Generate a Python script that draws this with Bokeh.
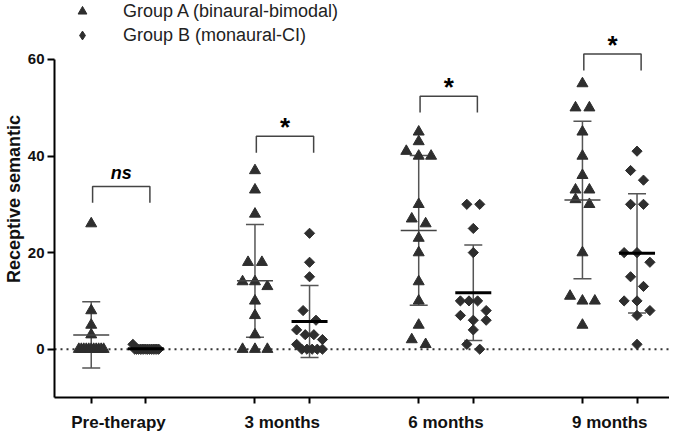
import numpy as np
from bokeh.plotting import figure
from bokeh.models import (FixedTicker, Whisker, TeeHead, Span, Legend, LegendItem,
                          ColumnDataSource, Range1d)
from bokeh.embed import file_html
from bokeh.resources import INLINE
from bokeh.core.properties import value

# ---------------- data ----------------
categories = ["Pre-therapy", "3 months", "6 months", "9 months"]
group_labels = ["Group A (binaural-bimodal)", "Group B (monaural-CI)"]

pre_a = [26, 8, 5, 3, 0, 0, 0, 0, 0, 0, 0, 0, 0, 0, 0]
pre_b = [1, 0, 0, 0, 0, 0, 0, 0, 0, 0, 0, 0, 0, 0, 0]
m3_a = [37, 33, 28, 18, 18, 14, 14, 13, 10, 7, 3, 0, 0, 0]
m3_b = [24, 18, 15, 8, 6, 4, 3, 3, 2, 1, 0, 0, 0, 0, 0]
m6_a = [45, 43, 41, 40, 40, 30, 27, 26, 23, 20, 14, 10, 5, 2, 1]
m6_b = [30, 30, 25, 20, 10, 10, 10, 8, 7, 6, 6, 4, 1, 0]
m9_a = [55, 50, 50, 45, 40, 36, 33, 33, 31, 30, 20, 11, 10, 10, 5]
m9_b = [41, 37, 35, 30, 30, 20, 20, 18, 15, 13, 10, 10, 8, 7, 1]

group_a = [pre_a, m3_a, m6_a, m9_a]
group_b = [pre_b, m3_b, m6_b, m9_b]

mean_a = [2.95, 14.15, 24.6, 30.9]
sd_a = [6.85, 11.65, 15.5, 16.3]
mean_b = [0.1, 5.75, 11.7, 19.85]
sd_b = [0.25, 7.45, 9.9, 12.35]

sig_labels = ["ns", "*", "*", "*"]
bracket_top = [33.7, 44.1, 52.4, 61.1]
bracket_leg = 3.4

y_ticks = [0, 20, 40, 60]

# ---------------- layout ----------------
W, H = 669, 434
BL, BB = 49, 34
X0, X1 = -1.346, 21.19
Y0, Y1 = -10, 72.2
PX_X = (W - BL) / (X1 - X0)
PX_Y = (H - BB) / (Y1 - Y0)

pos_a = [6 * i for i in range(len(categories))]
pos_b = [6 * i + 2 for i in range(len(categories))]
pos_lab = [6 * i + 1 for i in range(len(categories))]


def swarm(vals, w, h, maxw=36.0):
    """Prism-like scatter layout: bin by height, spread each bin symmetrically."""
    order = sorted(range(len(vals)), key=lambda i: -vals[i])
    thr = h / PX_Y
    bins = []
    for i in order:
        if bins and vals[bins[-1][0]] - vals[i] < thr:
            bins[-1].append(i)
        else:
            bins.append([i])
    off = [0.0] * len(vals)
    for b in bins:
        k = len(b)
        if k == 1:
            continue
        step = min(w + 3, (maxw - w) / (k - 1))
        for j, i in enumerate(b):
            off[i] = (j - (k - 1) / 2) * step / PX_X
    return off


def points(groups, pos, w, h):
    xs, ys = [], []
    for vals, x in zip(groups, pos):
        off = swarm(vals, w, h)
        xs += [x + o for o in off]
        ys += list(vals)
    return ColumnDataSource(dict(x=xs, y=ys))


FONT = "Liberation Sans"
DARK = "#2e2e2e"
GRAY = "#555555"

p = figure(width=W, height=H, x_range=Range1d(X0, X1), y_range=Range1d(Y0, Y1),
           output_backend="svg", toolbar_location=None,
           min_border_left=BL, min_border_right=0, min_border_top=0, min_border_bottom=BB)
p.grid.visible = False
p.outline_line_color = None
p.background_fill_color = "white"

# zero reference line
p.add_layout(Span(location=0, dimension="width", line_color="#333333", line_width=2,
                  line_dash="2 4", level="underlay"))

# error bars (SD)
for means, sds, pos in [(mean_a, sd_a, pos_a), (mean_b, sd_b, pos_b)]:
    src = ColumnDataSource(dict(x=pos, up=[m + s for m, s in zip(means, sds)],
                                lo=[m - s for m, s in zip(means, sds)]))
    p.add_layout(Whisker(source=src, base="x", upper="up", lower="lo", dimension="height",
                         line_color=GRAY, line_width=1.5,
                         upper_head=TeeHead(size=18, line_color=GRAY, line_width=1.5),
                         lower_head=TeeHead(size=18, line_color=GRAY, line_width=1.5)))

# points
src_a = points(group_a, pos_a, 11, 9.5)
src_b = points(group_b, pos_b, 10, 10)
r_a = p.scatter("x", "y", source=src_a, marker="triangle", size=11,
                fill_color=DARK, line_color=DARK)
r_b = p.scatter("x", "y", source=src_b, marker="square", angle=np.pi / 4, size=7.2,
                fill_color=DARK, line_color=DARK)
# legend swatch for group B (legend swatches ignore the marker angle); hidden in the plot
r_b_leg = p.scatter("x", "y", source=src_b, marker="diamond", size=10,
                    fill_color=DARK, line_color=DARK, visible=False)

# mean lines
p.scatter(pos_a, mean_a, marker="dash", size=36, line_color="#444444", line_width=1.5)
p.scatter(pos_b, mean_b, marker="dash", size=36, line_color="black", line_width=3)

# significance brackets
for i in range(len(categories)):
    xa, xb = pos_a[i] + 0.05, pos_b[i] + 0.15
    top = bracket_top[i]
    p.line([xa, xa, xb, xb], [top - bracket_leg, top, top, top - bracket_leg],
           line_color="#444444", line_width=1.5)
    mid = (xa + xb) / 2
    if sig_labels[i] == "ns":
        p.text([mid], [top], text=[sig_labels[i]], text_font=value(FONT),
               text_font_size="18px", text_font_style="bold italic", text_color="black",
               text_align="center", text_baseline="alphabetic", y_offset=-13)
    else:
        p.text([mid], [top], text=[sig_labels[i]], text_font=value(FONT),
               text_font_size="26px", text_font_style="bold", text_color="black",
               text_align="center", text_baseline="alphabetic", y_offset=-9)

# axes
xa_ = p.xaxis[0]
xa_.ticker = FixedTicker(ticks=pos_lab, minor_ticks=sorted(pos_a + pos_b))
xa_.major_label_overrides = {t: c for t, c in zip(pos_lab, categories)}
xa_.major_tick_out = 0
xa_.major_tick_in = 0
xa_.minor_tick_out = 6
xa_.minor_tick_in = 0
xa_.minor_tick_line_width = 2
xa_.minor_tick_line_color = "black"
xa_.axis_line_width = 2
xa_.axis_line_color = "black"
xa_.major_label_standoff = 9
xa_.major_label_text_font = FONT
xa_.major_label_text_font_style = "bold"
xa_.major_label_text_font_size = "17px"
xa_.major_label_text_color = "#111111"

ya_ = p.yaxis[0]
ya_.ticker = FixedTicker(ticks=y_ticks, minor_ticks=[])
ya_.bounds = (Y0, 60)
ya_.major_tick_out = 7
ya_.major_tick_in = 0
ya_.major_tick_line_width = 2
ya_.major_tick_line_color = "black"
ya_.minor_tick_line_color = None
ya_.axis_line_width = 2
ya_.axis_line_color = "black"
ya_.major_label_standoff = 3
ya_.major_label_text_font = FONT
ya_.major_label_text_font_style = "bold"
ya_.major_label_text_font_size = "15px"
ya_.major_label_text_color = "#111111"
ya_.axis_label = "Receptive semantic"
ya_.axis_label_standoff = 1
ya_.axis_label_text_font = FONT
ya_.axis_label_text_font_style = "bold"
ya_.axis_label_text_font_size = "18px"
ya_.axis_label_text_color = "#111111"

legend = Legend(items=[LegendItem(label=group_labels[0], renderers=[r_a]),
                       LegendItem(label=group_labels[1], renderers=[r_b_leg])],
                location="top_left", margin=0, padding=0, glyph_width=56, glyph_height=22,
                label_standoff=13, spacing=2, border_line_color=None,
                background_fill_alpha=0, label_text_font=FONT,
                label_text_font_size="18px", label_text_color="#222222")
p.add_layout(legend)

open("out.html", "w").write(file_html(p, INLINE))
